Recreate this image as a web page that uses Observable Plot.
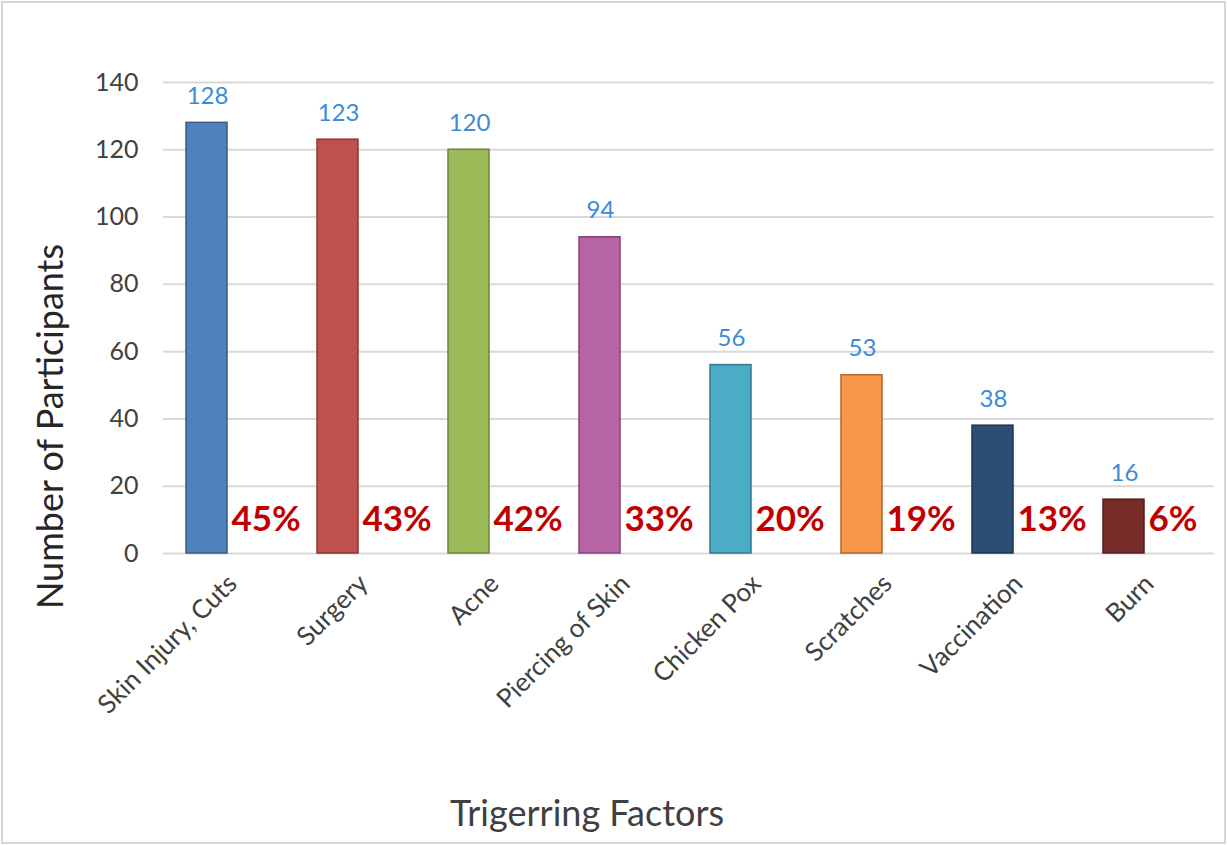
<!DOCTYPE html>
<html>
<head>
<meta charset="utf-8">
<script src="https://cdn.jsdelivr.net/npm/d3@7"></script>
<script src="https://cdn.jsdelivr.net/npm/@observablehq/plot@0.6"></script>
<style>
  html, body { margin: 0; padding: 0; background: #fff; }
  #wrap { position: relative; width: 1227px; height: 845px; overflow: hidden; }
  #wrap svg { position: absolute; left: 0; top: 0; }
  #border { position: absolute; left: 1px; top: 1px; right: 1px; bottom: 1px; border: 2px solid #d6d6d6; pointer-events: none; }
</style>
</head>
<body>
<div id="wrap"><div id="border"></div></div>
<script>
// ---- data ----
const categories = ["Skin Injury, Cuts", "Surgery", "Acne", "Piercing of Skin", "Chicken Pox", "Scratches", "Vaccination", "Burn"];
const participants = [128, 123, 120, 94, 56, 53, 38, 16];
const percentLabels = ["45%", "43%", "42%", "33%", "20%", "19%", "13%", "6%"];
const yTicks = [0, 20, 40, 60, 80, 100, 120, 140];
const xTitle = "Trigerring Factors";
const yTitle = "Number of Participants";

// ---- styles ----
const barColors = ["#4f81bd", "#c0504d", "#9bbb59", "#b664a3", "#4bacc6", "#f79646", "#2c4d75", "#772c2a"];
const font = "Lato, 'Open Sans', sans-serif";

const rows = categories.map((c, i) => ({cat: c, value: participants[i], pct: percentLabels[i]}));
const strokeOf = Object.fromEntries(categories.map((c, i) => [c, d3.color(barColors[i]).darker(1).formatHex()]));

const W = 1227, H = 845;
const mL = 163, mR = 13, mT = 82, mB = 292;
const bandW = 84;

const chart = Plot.plot({
  width: W,
  height: H,
  marginLeft: mL,
  marginRight: mR,
  marginTop: mT,
  marginBottom: mB,
  style: {fontFamily: font, background: "transparent", overflow: "visible"},
  x: {
    domain: categories,
    range: [161, 1211],
    paddingInner: 0.36,
    paddingOuter: 0.18,
    label: null
  },
  y: {domain: [0, 140], label: null},
  color: {domain: categories, range: barColors},
  marks: [
    Plot.gridY(yTicks, {stroke: "#d9d9d9", strokeOpacity: 1, strokeWidth: 2}),
    Plot.axisY(yTicks, {
      tickSize: 0, tickPadding: 25, fontSize: 25, fill: "#404040", label: null
    }),
    Plot.axisX({
      tickSize: 0, tickPadding: 26, tickRotate: -45, fontSize: 26, fill: "#404040", label: null, dx: 4
    }),
    Plot.barY(rows, {
      x: "cat", y: "value", fill: "cat",
      stroke: d => strokeOf[d.cat], strokeWidth: 1.5,
      insetRight: bandW / 2 + 1
    }),
    Plot.text(rows, {
      x: "cat", y: "value", text: d => String(d.value),
      dx: -bandW / 4, dy: -19, lineAnchor: "bottom",
      fill: "#3b8bd8", fontSize: 24
    }),
    Plot.text(rows, {
      x: "cat", y: () => 0, text: "pct",
      textAnchor: "start", dx: 3, dy: -23, lineAnchor: "bottom",
      fill: "#c00000", fontSize: 35, fontWeight: "bold"
    }),
    Plot.text([yTitle], {
      text: d => d, frameAnchor: "bottom-left", rotate: -90,
      dx: -101, dy: -127, textAnchor: "middle",
      fill: "#262626", fontSize: 36
    }),
    Plot.text([xTitle], {
      text: d => d, frameAnchor: "bottom", lineAnchor: "bottom",
      dx: -102, dy: 272, textAnchor: "middle",
      fill: "#404040", fontSize: 36
    })
  ]
});

document.getElementById("wrap").prepend(chart);
</script>
</body>
</html>
